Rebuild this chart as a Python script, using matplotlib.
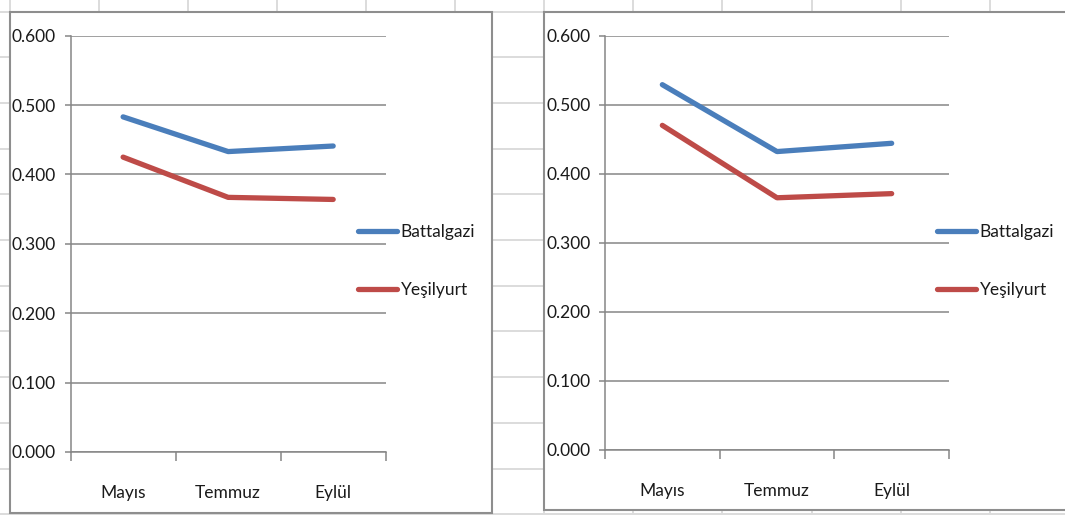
import matplotlib
matplotlib.use("Agg")
import matplotlib.pyplot as plt
from matplotlib.patches import Rectangle
import matplotlib.ticker as mticker

W, H = 1065, 515

plt.rcParams["font.family"] = ["Lato", "DejaVu Sans"]
plt.rcParams["font.size"] = 12.5

# --- data ---
MONTHS = ["Mayıs", "Temmuz", "Eylül"]
SERIES = ["Battalgazi", "Yeşilyurt"]
LEFT_BATTALGAZI = [0.483, 0.433, 0.441]
LEFT_YESILYURT = [0.425, 0.367, 0.364]
RIGHT_BATTALGAZI = [0.529, 0.432, 0.444]
RIGHT_YESILYURT = [0.470, 0.365, 0.371]
Y_TICKS = [0.0, 0.1, 0.2, 0.3, 0.4, 0.5, 0.6]

BLUE = "#4a7ebb"
RED = "#be4b48"
AXIS_GRAY = "#868686"
SHEET_GRAY = "#dcdcdc"
FRAME_GRAY = "#8e8e8e"
TEXT = "#1a1a1a"

fig = plt.figure(figsize=(W / 100, H / 100), dpi=100)
fig.patch.set_facecolor("white")

# background sheet in pixel coordinates
bg = fig.add_axes([0, 0, 1, 1])
bg.set_xlim(0, W)
bg.set_ylim(H, 0)
bg.axis("off")

for k in range(12):
    y = 11.5 + 45.7 * k
    bg.plot([0, W], [y, y], color=SHEET_GRAY, lw=1.4, zorder=1)
for k in range(12):
    x = 9.6 + 89.1 * k
    bg.plot([x, x], [0, H], color=SHEET_GRAY, lw=1.4, zorder=1)

# chart frames
bg.add_patch(Rectangle((9.6, 12), 482.4, 501, facecolor="white",
                       edgecolor=FRAME_GRAY, lw=1.5, zorder=2))
bg.add_patch(Rectangle((544, 12), 540, 498, facecolor="white",
                       edgecolor=FRAME_GRAY, lw=1.5, zorder=2))


def px_axes(x0, x1, ytop, ybot):
    return fig.add_axes([x0 / W, (H - ybot) / H, (x1 - x0) / W, (ybot - ytop) / H])


def draw_chart(ax, batt, yesil, legend_xy):
    ax.patch.set_alpha(0)
    xs = range(len(MONTHS))
    l1, = ax.plot(xs, batt, color=BLUE, lw=3.8, solid_capstyle="round", zorder=3)
    l2, = ax.plot(xs, yesil, color=RED, lw=3.8, solid_capstyle="round", zorder=3)

    ax.set_xlim(-0.5, len(MONTHS) - 0.5)
    ax.set_ylim(0, 0.6)
    ax.set_yticks(Y_TICKS)
    ax.yaxis.set_major_formatter(mticker.FormatStrFormatter("%.3f"))
    ax.yaxis.grid(True, color=AXIS_GRAY, lw=1.1)
    ax.set_axisbelow(True)

    ax.set_xticks([i - 0.5 for i in range(len(MONTHS) + 1)])
    ax.set_xticklabels([])
    ax.set_xticks(list(xs), minor=True)
    ax.set_xticklabels(MONTHS, minor=True)
    ax.tick_params(axis="x", which="major", length=6.5, width=1.1, color=AXIS_GRAY)
    ax.tick_params(axis="x", which="minor", length=0, pad=24, labelcolor=TEXT)
    ax.tick_params(axis="y", length=4, width=1.1, color=AXIS_GRAY, pad=6.5,
                   labelcolor=TEXT)

    for s in ["top", "right"]:
        ax.spines[s].set_visible(False)
    for s in ["left", "bottom"]:
        ax.spines[s].set_color(AXIS_GRAY)
        ax.spines[s].set_linewidth(1.1)

    leg = ax.legend([l1, l2], SERIES, loc="upper left",
                    bbox_to_anchor=(legend_xy[0] / W, 1 - legend_xy[1] / H),
                    bbox_transform=fig.transFigure, frameon=False,
                    borderpad=0, borderaxespad=0, handlelength=2.25,
                    handletextpad=0.2, labelspacing=2.4)
    for t in leg.get_texts():
        t.set_color(TEXT)


ax_l = px_axes(70.6, 385.7, 35.7, 452.0)
draw_chart(ax_l, LEFT_BATTALGAZI, LEFT_YESILYURT, (358, 224))

ax_r = px_axes(605.0, 949.0, 35.7, 449.5)
draw_chart(ax_r, RIGHT_BATTALGAZI, RIGHT_YESILYURT, (937, 224))

fig.savefig("out.png", dpi=100)
